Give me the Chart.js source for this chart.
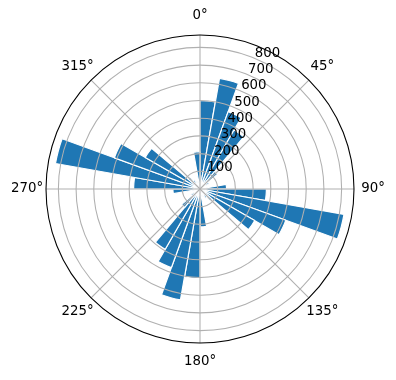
<!DOCTYPE html>
<html>
<head>
<meta charset="utf-8">
<script src="https://cdn.jsdelivr.net/npm/chart.js@4.4.1/dist/chart.umd.min.js"></script>
<style>
html,body{margin:0;padding:0;background:#fff;}
#wrap{width:396px;height:380px;position:relative;}
</style>
</head>
<body>
<div id="wrap"><canvas id="c"></canvas></div>
<script>
// direction bins (start angle, degrees clockwise from north), 10° each
const categories = [0,10,20,30,40,50,60,70,80,90,100,110,120,130,140,150,160,170,
                    180,190,200,210,220,230,240,250,260,270,280,290,300,310,320,330,340,350];
const counts = [500,635,465,385,130,60,40,30,150,375,826,516,357,90,60,45,40,214,
                505,636,473,393,135,60,40,30,153,375,829,515,357,90,60,45,40,211];
const radialTicks = [100,200,300,400,500,600,700,800];
const angleTicks = [0,45,90,135,180,225,270,315];
const angleTickLabels = ['0°','45°','90°','135°','180°','225°','270°','315°'];
const rMax = 870;

const FONT = '13.33px "DejaVu Sans", sans-serif';

const overlay = {
  id: 'overlay',
  afterDatasetsDraw(chart) {
    const s = chart.scales.r;
    const ctx = chart.ctx;
    const cx = s.xCenter, cy = s.yCenter, R = s.drawingArea;
    ctx.save();
    // grid circles
    ctx.strokeStyle = '#b0b0b0';
    ctx.lineWidth = 1.07;
    radialTicks.forEach(v => {
      const d = s.getDistanceFromCenterForValue(v);
      ctx.beginPath();
      ctx.arc(cx, cy, d, 0, Math.PI * 2);
      ctx.stroke();
    });
    // angle lines
    angleTicks.forEach(a => {
      const t = (a - 90) * Math.PI / 180;
      ctx.beginPath();
      ctx.moveTo(cx, cy);
      ctx.lineTo(cx + R * Math.cos(t), cy + R * Math.sin(t));
      ctx.stroke();
    });
    // spine
    ctx.strokeStyle = '#000';
    ctx.lineWidth = 1.07;
    ctx.beginPath();
    ctx.arc(cx, cy, R, 0, Math.PI * 2);
    ctx.stroke();
    // radial tick labels at 22.5°
    ctx.fillStyle = '#000';
    ctx.font = FONT;
    ctx.textAlign = 'left';
    ctx.textBaseline = 'alphabetic';
    const ta = (22.5 - 90) * Math.PI / 180;
    radialTicks.forEach(v => {
      const d = s.getDistanceFromCenterForValue(v);
      const x = cx + d * Math.cos(ta), y = cy + d * Math.sin(ta);
      ctx.fillText(String(v), x + 0.5, y - 1.5);
    });
    // angle labels
    ctx.textAlign = 'center';
    ctx.textBaseline = 'middle';
    angleTicks.forEach((a, i) => {
      const t = (a - 90) * Math.PI / 180;
      const d = R + 19;
      ctx.fillText(angleTickLabels[i], cx + d * Math.cos(t), cy + d * Math.sin(t));
    });
    ctx.restore();
  }
};

new Chart(document.getElementById('c'), {
  type: 'polarArea',
  data: {
    labels: categories.map(c => c + '°'),
    datasets: [{
      data: counts,
      backgroundColor: '#1f77b4',
      borderColor: '#ffffff',
      borderWidth: 1.2
    }]
  },
  options: {
    responsive: true,
    maintainAspectRatio: false,
    animation: false,
    layout: { padding: { left: 46.5, right: 41.5, top: 35, bottom: 37 } },
    plugins: { legend: { display: false }, tooltip: { enabled: false } },
    scales: {
      r: {
        min: 0,
        max: rMax,
        startAngle: 0,
        ticks: { display: false, stepSize: 100 },
        grid: { display: false },
        angleLines: { display: false },
        pointLabels: { display: false }
      }
    }
  },
  plugins: [overlay]
});
</script>
</body>
</html>
